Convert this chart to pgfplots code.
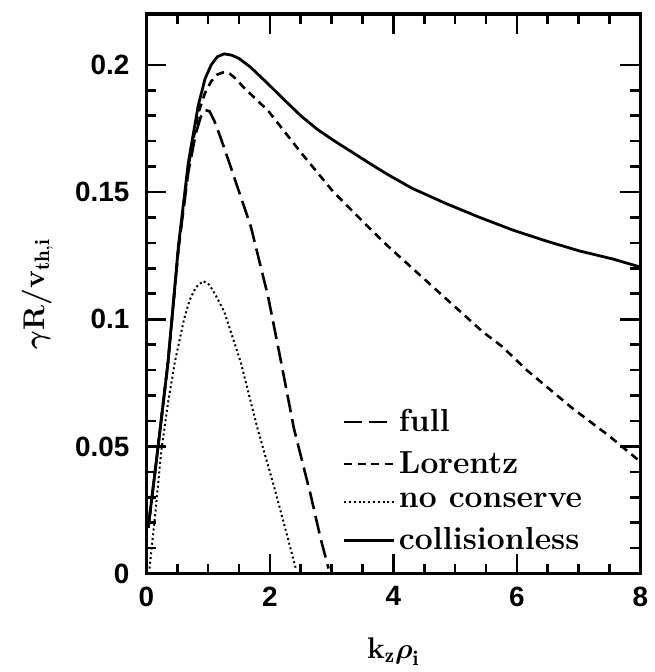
\documentclass[border=0pt]{standalone}
\usepackage{amsmath}
\usepackage{fontspec}
\setsansfont{Liberation Sans}
\usepackage{pgfplots}
\pgfplotsset{compat=1.18}

\begin{document}
\begin{tikzpicture}
\begin{axis}[
    scale only axis,
    width=248pt, height=281pt,
    xmin=0, xmax=8, ymin=0, ymax=0.22,
    xtick={0,2,4,6,8},
    xticklabels={0,2,4,6,8},
    ytick={0,0.05,0.1,0.15,0.2},
    yticklabels={0,0.05,0.1,0.15,0.2},
    xtick pos=both, ytick pos=both,
    minor x tick num=3,
    minor y tick num=4,
    tick align=inside,
    major tick length=10pt,
    minor tick length=5pt,
    tick style={black, line width=1.3pt},
    axis line style={line width=1.6pt},
    tick label style={font=\fontsize{14}{16}\selectfont\sffamily\bfseries},
    xticklabel style={yshift=-3pt},
    yticklabel style={xshift=-5pt},
    xlabel={k$_{\mathbf{z}}\boldsymbol{\rho}_{\mathbf{i}}$},
    ylabel={$\boldsymbol{\gamma}$R/v$_{\mathbf{th,i}}$},
    label style={font=\fontsize{15}{17}\selectfont\bfseries},
    xlabel style={yshift=-9pt},
    ylabel style={yshift=4pt},
    legend cell align=left,
    legend image post style={xscale=1.45},
    legend style={at={(0.385,0.022)}, anchor=south west, draw=none, fill=none,
        row sep=4.5pt,
        font=\fontsize{16}{18}\selectfont\bfseries\addfontfeatures{LetterSpace=6}},
]
\addplot[black, line width=1.3pt, dash pattern=on 9pt off 3.5pt] coordinates {
    (0.03,0.018) (0.19,0.050) (0.35,0.083) (0.52,0.128) (0.68,0.158) (0.8,0.173)
    (0.88,0.1795) (0.95,0.1822) (1.02,0.1818) (1.1,0.178) (1.2,0.1715) (1.34,0.1617)
    (1.53,0.148) (1.69,0.1366) (1.97,0.109) (2.18,0.0834) (2.39,0.057) (2.66,0.031)
    (2.82,0.014) (2.95,0.002)
};
\addplot[black, line width=1.3pt, dash pattern=on 4pt off 2.8pt] coordinates {
    (0.03,0.018) (0.19,0.050) (0.35,0.083) (0.52,0.128) (0.68,0.160) (0.84,0.181)
    (0.95,0.189) (1.05,0.1935) (1.15,0.1962) (1.24,0.197) (1.35,0.1965) (1.45,0.1945)
    (1.58,0.191) (1.97,0.182) (2.5,0.1656) (3.03,0.150) (3.58,0.1366) (3.9,0.129)
    (4.81,0.109) (5.45,0.095) (5.76,0.0893) (6.16,0.080) (6.9,0.065) (7.5,0.054) (8,0.044)
};
\addplot[black, line width=1pt, dash pattern=on 1pt off 1.4pt] coordinates {
    (0.05,0.002) (0.15,0.025) (0.24,0.048) (0.35,0.067) (0.46,0.083) (0.61,0.100)
    (0.7,0.1075) (0.8,0.1125) (0.92,0.115) (1.02,0.1135) (1.12,0.1095) (1.26,0.103)
    (1.53,0.083) (1.8,0.057) (2.07,0.034) (2.29,0.014) (2.42,0.002)
};
\addplot[black, line width=1.4pt] coordinates {
    (0.03,0.018) (0.19,0.050) (0.35,0.083) (0.52,0.129) (0.68,0.1617) (0.84,0.184)
    (0.95,0.1945) (1.05,0.2) (1.15,0.2032) (1.26,0.2043) (1.38,0.2038) (1.5,0.2025)
    (1.69,0.199) (1.95,0.193) (2.23,0.1863) (2.5,0.180) (2.77,0.1746) (3.05,0.170)
    (3.31,0.166) (3.6,0.1615) (3.9,0.157) (4.3,0.1515) (4.85,0.1455) (5.40,0.140)
    (5.94,0.135) (6.48,0.1307) (7.02,0.1268) (7.55,0.1237) (8,0.1205)
};
\legend{full, Lorentz, no conserve, collisionless}
\end{axis}
\path (current axis.south west) ++(-73.5pt,-49pt);
\path (current axis.north east) ++(4.5pt,7pt);
\end{tikzpicture}
\end{document}
